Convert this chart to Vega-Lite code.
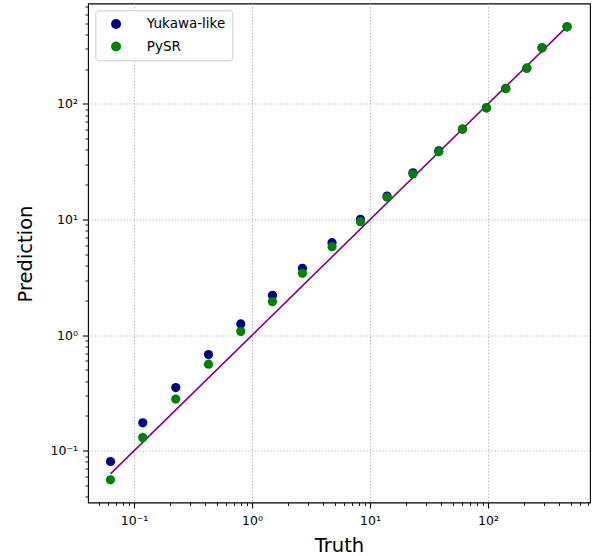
{
  "$schema": "https://vega.github.io/schema/vega-lite/v6.json",
  "width": 502,
  "height": 499,
  "autosize": {"type": "none"},
  "padding": {"left": 88, "top": 3.5, "right": 3, "bottom": 53},
  "background": "white",
  "config": {
    "font": "DejaVu Sans",
    "view": {"stroke": "black", "strokeWidth": 1.1},
    "axis": {
      "domain": false,
      "labelFont": "DejaVu Sans",
      "titleFont": "DejaVu Sans",
      "labelColor": "black",
      "titleColor": "black",
      "titleFontWeight": "normal",
      "tickColor": "black",
      "labelOverlap": false,
      "labelFlush": false,
      "labelBound": false
    }
  },
  "layer": [
    {
      "data": {"values": [{"t": 0.0631}, {"t": 467}]},
      "mark": {"type": "line", "color": "#800080", "strokeWidth": 1.6, "clip": true},
      "encoding": {
        "x": {"field": "t", "type": "quantitative"},
        "y": {"field": "t", "type": "quantitative"}
      }
    },
    {
      "data": {
        "values": [
          {"truth": 0.0631, "pred": 0.0808, "model": "Yukawa-like"},
          {"truth": 0.1185, "pred": 0.1746, "model": "Yukawa-like"},
          {"truth": 0.2256, "pred": 0.3524, "model": "Yukawa-like"},
          {"truth": 0.4274, "pred": 0.6797, "model": "Yukawa-like"},
          {"truth": 0.802, "pred": 1.252, "model": "Yukawa-like"},
          {"truth": 1.489, "pred": 2.216, "model": "Yukawa-like"},
          {"truth": 2.673, "pred": 3.794, "model": "Yukawa-like"},
          {"truth": 4.76, "pred": 6.31, "model": "Yukawa-like"},
          {"truth": 8.29, "pred": 10.06, "model": "Yukawa-like"},
          {"truth": 13.93, "pred": 16.0, "model": "Yukawa-like"},
          {"truth": 23.1, "pred": 25.4, "model": "Yukawa-like"},
          {"truth": 38.2, "pred": 39.4, "model": "Yukawa-like"},
          {"truth": 60.7, "pred": 60.7, "model": "Yukawa-like"},
          {"truth": 96.9, "pred": 92.7, "model": "Yukawa-like"},
          {"truth": 141.3, "pred": 136.4, "model": "Yukawa-like"},
          {"truth": 212.8, "pred": 204, "model": "Yukawa-like"},
          {"truth": 286.8, "pred": 306, "model": "Yukawa-like"},
          {"truth": 467, "pred": 465, "model": "Yukawa-like"},
          {"truth": 0.0631, "pred": 0.0561, "model": "PySR"},
          {"truth": 0.1185, "pred": 0.130, "model": "PySR"},
          {"truth": 0.2256, "pred": 0.280, "model": "PySR"},
          {"truth": 0.4274, "pred": 0.5616, "model": "PySR"},
          {"truth": 0.802, "pred": 1.074, "model": "PySR"},
          {"truth": 1.489, "pred": 1.951, "model": "PySR"},
          {"truth": 2.673, "pred": 3.43, "model": "PySR"},
          {"truth": 4.76, "pred": 5.83, "model": "PySR"},
          {"truth": 8.29, "pred": 9.59, "model": "PySR"},
          {"truth": 13.93, "pred": 15.6, "model": "PySR"},
          {"truth": 23.1, "pred": 24.8, "model": "PySR"},
          {"truth": 38.2, "pred": 38.6, "model": "PySR"},
          {"truth": 60.7, "pred": 60.5, "model": "PySR"},
          {"truth": 96.9, "pred": 92.5, "model": "PySR"},
          {"truth": 141.3, "pred": 136, "model": "PySR"},
          {"truth": 212.8, "pred": 204, "model": "PySR"},
          {"truth": 286.8, "pred": 306, "model": "PySR"},
          {"truth": 467, "pred": 465, "model": "PySR"}
        ]
      },
      "mark": {"type": "point", "filled": true, "opacity": 1, "size": 85},
      "encoding": {
        "x": {
          "field": "truth",
          "type": "quantitative",
          "scale": {"type": "log", "domain": [0.0407, 731], "nice": false},
          "axis": {
            "title": "Truth",
            "titleFontSize": 19.5,
            "titleBaseline": "alphabetic",
            "titleX": 251,
            "titleY": 49,
            "labelFontSize": 12.5,
            "labelBaseline": "alphabetic",
            "labelPadding": 16,
            "values": [0.05,0.06,0.07,0.08,0.09,0.1,0.2,0.3,0.4,0.5,0.6,0.7,0.8,0.9,1,2,3,4,5,6,7,8,9,10,20,30,40,50,60,70,80,90,100,200,300,400,500,600,700],
            "labelExpr": "abs(log(datum.value)/LN10 - round(log(datum.value)/LN10)) < 0.001 ? (round(log(datum.value)/LN10) == -1 ? '10⁻¹' : round(log(datum.value)/LN10) == 0 ? '10⁰' : round(log(datum.value)/LN10) == 1 ? '10¹' : '10²') : ''",
            "grid": true,
            "gridColor": "#b0b0b0",
            "gridDash": [1.2, 2],
            "gridWidth": 1,
            "gridOpacity": {"condition": {"test": "abs(log(datum.value)/LN10 - round(log(datum.value)/LN10)) < 0.001", "value": 1}, "value": 0},
            "tickSize": {"condition": {"test": "abs(log(datum.value)/LN10 - round(log(datum.value)/LN10)) < 0.001", "value": 5.5}, "value": 3},
            "tickWidth": {"condition": {"test": "abs(log(datum.value)/LN10 - round(log(datum.value)/LN10)) < 0.001", "value": 1.1}, "value": 0.9}
          }
        },
        "y": {
          "field": "pred",
          "type": "quantitative",
          "scale": {"type": "log", "domain": [0.0357, 740], "nice": false},
          "axis": {
            "title": "Prediction",
            "titleFontSize": 19.5,
            "titleBaseline": "alphabetic",
            "titleAngle": -90,
            "titleX": -57,
            "titleY": 250,
            "labelFontSize": 12.5,
            "labelPadding": 5,
            "values": [0.04,0.05,0.06,0.07,0.08,0.09,0.1,0.2,0.3,0.4,0.5,0.6,0.7,0.8,0.9,1,2,3,4,5,6,7,8,9,10,20,30,40,50,60,70,80,90,100,200,300,400,500,600,700],
            "labelExpr": "abs(log(datum.value)/LN10 - round(log(datum.value)/LN10)) < 0.001 ? (round(log(datum.value)/LN10) == -1 ? '10⁻¹' : round(log(datum.value)/LN10) == 0 ? '10⁰' : round(log(datum.value)/LN10) == 1 ? '10¹' : '10²') : ''",
            "grid": true,
            "gridColor": "#b0b0b0",
            "gridDash": [1.2, 2],
            "gridWidth": 1,
            "gridOpacity": {"condition": {"test": "abs(log(datum.value)/LN10 - round(log(datum.value)/LN10)) < 0.001", "value": 1}, "value": 0},
            "tickSize": {"condition": {"test": "abs(log(datum.value)/LN10 - round(log(datum.value)/LN10)) < 0.001", "value": 5.5}, "value": 3},
            "tickWidth": {"condition": {"test": "abs(log(datum.value)/LN10 - round(log(datum.value)/LN10)) < 0.001", "value": 1.1}, "value": 0.9}
          }
        },
        "color": {
          "field": "model",
          "type": "nominal",
          "scale": {"domain": ["Yukawa-like", "PySR"], "range": ["#000080", "#008000"]},
          "legend": {
            "title": null,
            "orient": "none",
            "legendX": 7.3,
            "legendY": 6.8,
            "fillColor": "white",
            "strokeColor": "#cccccc",
            "cornerRadius": 3,
            "padding": 7,
            "symbolType": "circle",
            "symbolSize": 100,
            "symbolStrokeWidth": 0,
            "symbolOffset": 7,
            "labelOffset": 24,
            "labelFontSize": 13.5,
            "labelFont": "DejaVu Sans",
            "labelColor": "black",
            "rowPadding": 7.5
          }
        }
      }
    }
  ]
}
